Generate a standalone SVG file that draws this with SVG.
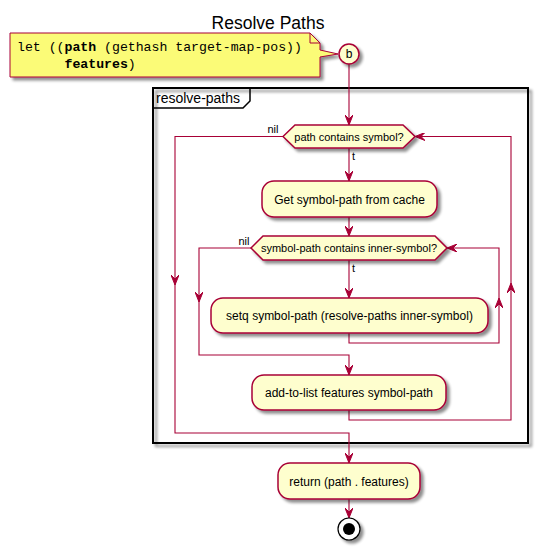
<svg xmlns="http://www.w3.org/2000/svg" width="537" height="551" viewBox="0 0 537 551">
<style>
.t{font-family:"Liberation Sans",Arial,sans-serif;fill:#000}
.box{fill:#FEFECE;stroke:#A80036;stroke-width:1.5;filter:url(#sh)}
.ln{fill:none;stroke:#A80036;stroke-width:1.1}
.mono{font-family:"Liberation Mono","Courier New",monospace;font-size:13.2px;white-space:pre}
</style>
<defs>
<filter id="sh" x="-20%" y="-20%" width="150%" height="160%">
<feGaussianBlur in="SourceAlpha" stdDeviation="1.6"/>
<feOffset dx="3" dy="3" result="o"/>
<feComponentTransfer><feFuncA type="linear" slope="0.45"/></feComponentTransfer>
<feMerge><feMergeNode/><feMergeNode in="SourceGraphic"/></feMerge>
</filter>
<marker id="ar" viewBox="0 0 10 8" refX="10" refY="4" markerWidth="10" markerHeight="8" markerUnits="userSpaceOnUse" orient="auto">
<path d="M0,0 L10,4 L0,8 L4,4 Z" fill="#A80036" stroke="#A80036" stroke-width="1"/>
</marker>
</defs>
<rect width="537" height="551" fill="#fff"/>
<text class="t" x="268" y="29" font-size="17.5" text-anchor="middle">Resolve Paths</text>

<g id="frame">
<rect x="153" y="88" width="375" height="355" fill="none" stroke="#000" stroke-width="2" filter="url(#sh)"/>
<path d="M153,108 H243 L250,101 V88" fill="none" stroke="#000" stroke-width="1.5"/>
<text class="t" x="156" y="103" font-size="14">resolve-paths</text>
</g>

<g id="note">
<path d="M10,33 H310 L320,43 V50 L338,54 L320,57 V77 H10 Z" fill="#FBFB77" stroke="#A80036" stroke-width="1" filter="url(#sh)"/>
<path d="M310,33 V43 H320" fill="none" stroke="#A80036" stroke-width="1"/>
<text class="mono" x="17" y="51">let ((<tspan font-weight="bold">path</tspan> (gethash target-map-pos))</text>
<text class="mono" x="17" y="68">      <tspan font-weight="bold">features</tspan>)</text>
</g>

<g id="connectors">
<path class="ln" d="M349,64 V125" marker-end="url(#ar)"/>
<path class="ln" d="M283,136.5 H175 V285" marker-end="url(#ar)"/>
<path class="ln" d="M175,285 V433 H349 V463" marker-end="url(#ar)"/>
<path class="ln" d="M349,148 V181" marker-end="url(#ar)"/>
<path class="ln" d="M349,217 V236" marker-end="url(#ar)"/>
<path class="ln" d="M251,248 H199 V302" marker-end="url(#ar)"/>
<path class="ln" d="M199,302 V355 H349 V375" marker-end="url(#ar)"/>
<path class="ln" d="M349,260 V298" marker-end="url(#ar)"/>
<path class="ln" d="M349,333 V343 H499 V298" marker-end="url(#ar)"/>
<path class="ln" d="M499,298 V248 H447" marker-end="url(#ar)"/>
<path class="ln" d="M349,410 V420 H511 V283" marker-end="url(#ar)"/>
<path class="ln" d="M511,283 V136.5 H415" marker-end="url(#ar)"/>
<path class="ln" d="M349,499 V518" marker-end="url(#ar)"/>
<text class="t" x="273" y="133" font-size="11" text-anchor="middle">nil</text>
<text class="t" x="352" y="160" font-size="11">t</text>
<text class="t" x="244" y="245" font-size="11" text-anchor="middle">nil</text>
<text class="t" x="352" y="272" font-size="11">t</text>
</g>

<g id="start">
<circle class="box" cx="349" cy="54" r="10"/>
<text class="t" x="349" y="58" font-size="12" text-anchor="middle">b</text>
</g>

<g id="d1">
<polygon class="box" points="283,136.5 295,125 403,125 415,136.5 403,148 295,148"/>
<text class="t" x="349" y="140.5" font-size="11" text-anchor="middle">path contains symbol?</text>
</g>

<g id="get">
<rect class="box" x="262" y="181" width="175" height="36" rx="12"/>
<text class="t" x="349.5" y="203.5" font-size="12" text-anchor="middle">Get symbol-path from cache</text>
</g>

<g id="d2">
<polygon class="box" points="251,248 263,236 435,236 447,248 435,260 263,260"/>
<text class="t" x="349" y="252" font-size="11" text-anchor="middle">symbol-path contains inner-symbol?</text>
</g>

<g id="setq">
<rect class="box" x="211" y="298" width="277" height="35" rx="12"/>
<text class="t" x="349.5" y="320" font-size="12" text-anchor="middle">setq symbol-path (resolve-paths inner-symbol)</text>
</g>

<g id="add">
<rect class="box" x="252" y="375" width="194" height="35" rx="12"/>
<text class="t" x="349" y="397" font-size="12" text-anchor="middle">add-to-list features symbol-path</text>
</g>

<g id="ret">
<rect class="box" x="278" y="463" width="142" height="36" rx="12"/>
<text class="t" x="349" y="485.5" font-size="12" text-anchor="middle">return (path . features)</text>
</g>

<g id="end">
<circle cx="349" cy="529" r="11" fill="#fff" stroke="#000" stroke-width="1.2" filter="url(#sh)"/>
<circle cx="349" cy="529" r="6" fill="#000"/>
</g>
</svg>
